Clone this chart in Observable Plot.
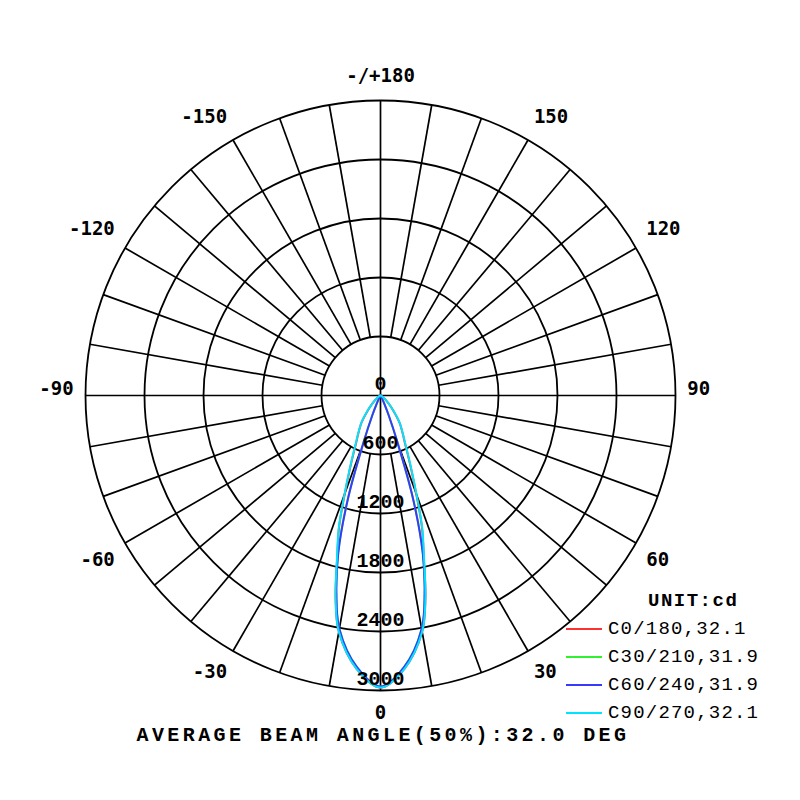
<!DOCTYPE html>
<html><head><meta charset="utf-8">
<script src="https://cdn.jsdelivr.net/npm/d3@7"></script>
<script src="https://cdn.jsdelivr.net/npm/@observablehq/plot@0.6"></script>
<style>
body{margin:0;background:#fff;}
#wrap{position:relative;width:800px;height:800px;overflow:hidden;}
#chart svg{display:block;}
g[aria-label^="angle-labels"] text{letter-spacing:1.5px;}
g[aria-label="radial-labels"] text{letter-spacing:3.5px;}
#legend{position:absolute;left:566px;top:587px;font-family:"Liberation Mono",monospace;font-size:19px;color:#000;}
#legend .row{height:28px;display:flex;align-items:center;letter-spacing:1.2px;white-space:nowrap;}
#legend .unit{font-weight:bold;padding-left:82px;letter-spacing:1.5px;}
#legend .sw{width:36px;height:2px;margin-right:6px;}
#caption{position:absolute;left:0;width:760px;top:724px;text-align:center;font-family:"Liberation Mono",monospace;font-weight:bold;font-size:20px;letter-spacing:3.4px;padding-left:3px;color:#000;}
</style></head>
<body><div id="wrap"><div id="chart"></div><div id="legend"></div><div id="caption"></div></div>
<script>
// vertical angle gamma (deg) and luminous intensity (cd) per C-plane
const gammaDeg = [0, 5, 10, 12.5, 15, 17.5, 20, 22.5, 25, 27.5, 30, 35, 40, 45, 50, 55, 60, 70, 80, 90];
const C0  = [2970, 2790, 2440, 2110, 1700, 1400, 1060, 820, 650, 530, 455, 335, 205, 118, 68, 34, 13, 0, 0, 0];
const C30 = [2960, 2770, 2410, 2080, 1670, 1110, 500, 220, 90, 32, 10, 0, 0, 0, 0, 0, 0, 0, 0, 0];
const C60 = [2960, 2770, 2410, 2070, 1660, 1100, 490, 215, 88, 30, 10, 0, 0, 0, 0, 0, 0, 0, 0, 0];
const C90 = [2970, 2790, 2440, 2110, 1710, 1410, 1070, 830, 660, 540, 460, 340, 210, 120, 70, 35, 14, 0, 0, 0];
const planes = ["C0/180", "C30/210", "C60/240", "C90/270"];
const beamAngles = ["32.1", "31.9", "31.9", "32.1"];
const colors = ["#ff3030", "#30f030", "#3a3aff", "#00e4ff"];
const radialTicks = [0, 600, 1200, 1800, 2400, 3000];
const angleTicks = [-150, -120, -90, -60, -30, 0, 30, 60, 90, 120, 150, 180];
const angleLabels = ["-150", "-120", "-90", "-60", "-30", "0", "30", "60", "90", "120", "150", "-/+180"];
const unitLabel = "UNIT:cd";
const caption = "AVERAGE BEAM ANGLE(50%):32.0 DEG";

const series = [C0, C30, C60, C90];
const rad = d => d * Math.PI / 180;
const px = (r, a) => r * Math.sin(rad(a));
const py = (r, a) => -r * Math.cos(rad(a));
const Rmax = d3.max(radialTicks);
const Rin = radialTicks[1];
const labelR = Rmax * 1.04;

const rows = [];
planes.forEach((p, i) => {
  const v = series[i];
  for (let k = gammaDeg.length - 1; k >= 0; k--) rows.push({plane: p, g: -gammaDeg[k], I: v[k]});
  for (let k = 1; k < gammaDeg.length; k++) rows.push({plane: p, g: gammaDeg[k], I: v[k]});
});

const spokes = d3.range(-170, 181, 10).filter(a => a % 90 !== 0);
const axesLines = [0, 90];
const idx = angleTicks.map((a, i) => i);

// label groups: horizontal anchor by side, vertical offset by half
function angleText(filter, textAnchor, dy, name) {
  return Plot.text(idx.filter(i => filter(angleTicks[i])), {
    x: i => px(labelR, angleTicks[i]), y: i => py(labelR, angleTicks[i]),
    text: i => angleLabels[i], textAnchor, dy,
    fontFamily: "DejaVu Sans Mono", fontWeight: "bold", fontSize: 19, fill: "#000", ariaLabel: name
  });
}

const chart = Plot.plot({
  width: 800, height: 800, margin: 0,
  x: {domain: [-Rmax, Rmax], range: [85, 675], axis: null},
  y: {domain: [-Rmax, Rmax], range: [690, 100], axis: null},
  r: {type: "linear", domain: [0, Rmax], range: [0, 295]},
  color: {domain: planes, range: colors},
  marks: [
    Plot.dot(radialTicks.filter(v => v > 0), {x: 0, y: 0, r: d => d, stroke: "#000", fill: "none", strokeWidth: 1.8}),
    Plot.link(spokes, {x1: a => px(Rin, a), y1: a => py(Rin, a), x2: a => px(Rmax, a), y2: a => py(Rmax, a), stroke: "#000", strokeWidth: 1.7}),
    Plot.link(axesLines, {x1: a => px(-Rmax, a), y1: a => py(-Rmax, a), x2: a => px(Rmax, a), y2: a => py(Rmax, a), stroke: "#000", strokeWidth: 1.7}),
    Plot.line(rows, {x: d => px(d.I, d.g), y: d => py(d.I, d.g), z: "plane", stroke: "plane", strokeWidth: 2, curve: "catmull-rom"}),
    Plot.text(radialTicks, {x: 0, y: d => -d, text: d => String(d), dy: -12, fontFamily: "Liberation Mono", fontWeight: "bold", fontSize: 20, fill: "#000", ariaLabel: "radial-labels"}),
    angleText(a => a === 180, "middle", -13, "angle-labels-top"),
    angleText(a => a === 0, "middle", 11, "angle-labels-bottom"),
    angleText(a => a > 90 && a < 180, "start", -13, "angle-labels-rt"),
    angleText(a => a === 90, "start", -7, "angle-labels-r"),
    angleText(a => a > 0 && a < 90, "start", 11, "angle-labels-rb"),
    angleText(a => a < -90, "end", -13, "angle-labels-lt"),
    angleText(a => a === -90, "end", -7, "angle-labels-l"),
    angleText(a => a < 0 && a > -90, "end", 11, "angle-labels-lb")
  ]
});
document.getElementById("chart").appendChild(chart);

const legend = document.getElementById("legend");
const u = document.createElement("div");
u.className = "row unit"; u.textContent = unitLabel; legend.appendChild(u);
planes.forEach((p, i) => {
  const r = document.createElement("div"); r.className = "row";
  const s = document.createElement("span"); s.className = "sw"; s.style.background = colors[i];
  const t = document.createElement("span"); t.textContent = p + "," + beamAngles[i];
  r.appendChild(s); r.appendChild(t); legend.appendChild(r);
});
document.getElementById("caption").textContent = caption;
</script>
</body></html>
